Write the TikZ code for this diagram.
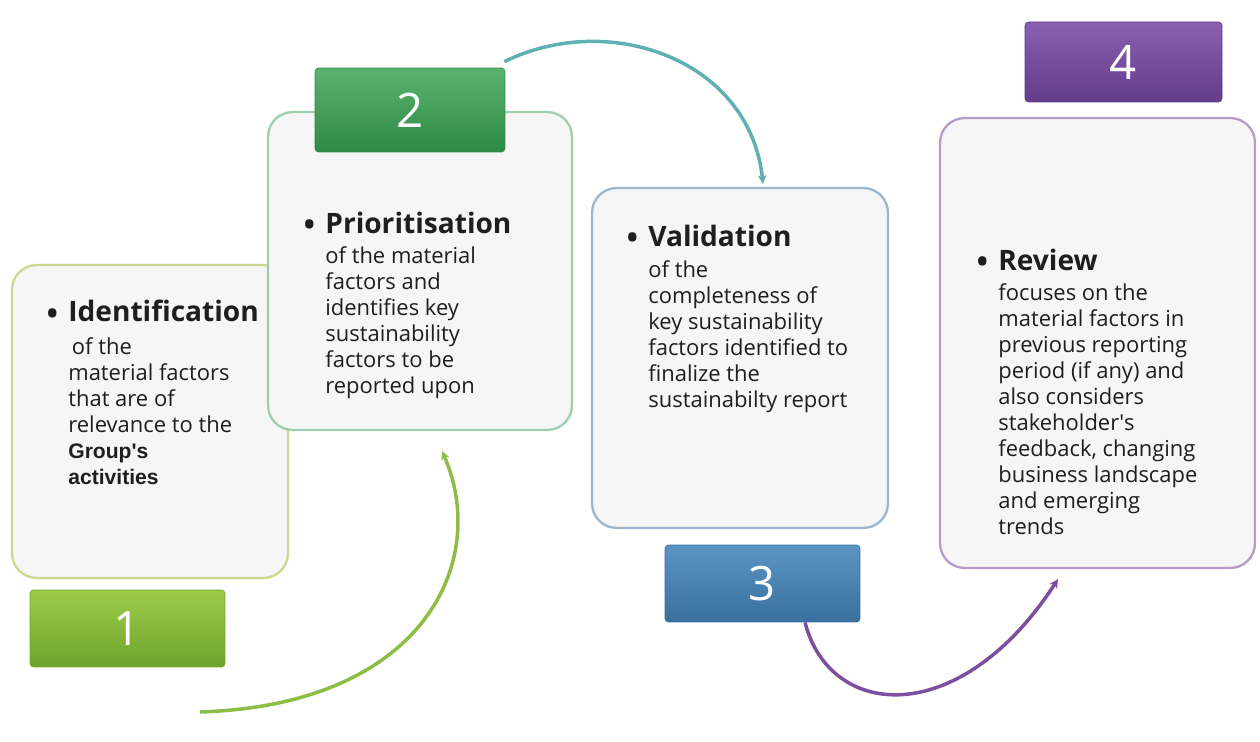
\documentclass[tikz,border=0pt]{standalone}
\usepackage{fontspec}
\setmainfont{Open Sans}
\newfontfamily\arialfont{Liberation Sans}
\usetikzlibrary{arrows.meta}

\definecolor{boxgray}{HTML}{F6F6F6}
\definecolor{edgeone}{HTML}{C9D98F}
\definecolor{edgetwo}{HTML}{9FCFB0}
\definecolor{edgethree}{HTML}{9BB8D0}
\definecolor{edgefour}{HTML}{B49CC8}
\definecolor{arcgreen}{HTML}{8CBD45}
\definecolor{arcteal}{HTML}{5FB0B0}
\definecolor{arcpurple}{HTML}{7D4F9E}
\definecolor{tabonetop}{HTML}{9CCC4A}
\definecolor{tabonebot}{HTML}{6EA32C}
\definecolor{tabtwotop}{HTML}{5AB46E}
\definecolor{tabtwobot}{HTML}{2F8A47}
\definecolor{tabthreetop}{HTML}{5A96C4}
\definecolor{tabthreebot}{HTML}{386F9E}
\definecolor{tabfourtop}{HTML}{8A5FB0}
\definecolor{tabfourbot}{HTML}{633C8A}
\definecolor{inkgray}{HTML}{1E1E1E}

\tikzset{
  stage/.style={draw=#1, line width=1.3pt, rounded corners=14pt, fill=boxgray},
  tabbox/.style 2 args={rounded corners=2pt, top color=#1, bottom color=#2,
    draw=#2, line width=0.4pt, text=white, font=\fontsize{27}{27}\selectfont},
  stagetext/.style={anchor=north west, inner sep=0pt, align=left, text=inkgray,
    font=\fontsize{12.5}{14.8}\selectfont},
  flow/.style={draw=#1, line width=2pt, -{Stealth[length=5pt,width=5pt]}}
}
\newcommand{\stagehead}[1]{{\fontsize{16}{18}\selectfont\llap{\raisebox{-3pt}{\fontsize{22}{18}\selectfont\textbullet}\hspace{5pt}}\bfseries #1}}

\begin{document}
\begin{tikzpicture}[x=0.02cm, y=-0.02cm]
\useasboundingbox (0,0) rectangle (1260,742);
% stage boxes
\node [stage=edgeone, minimum width=5.52cm, minimum height=6.26cm] (box1) at (150,421.5) {};
\node [stage=edgetwo, minimum width=6.08cm, minimum height=6.36cm] (box2) at (420,271) {};
\node [stage=edgethree, minimum width=5.92cm, minimum height=6.8cm] (box3) at (740,358) {};
\node [stage=edgefour, minimum width=6.3cm, minimum height=9cm] (box4) at (1097.5,343) {};
% number tabs
\node [tabbox={tabonetop}{tabonebot}, minimum width=3.9cm, minimum height=1.54cm] (tab1) at (127.5,628.5) {1};
\node [tabbox={tabtwotop}{tabtwobot}, minimum width=3.8cm, minimum height=1.68cm] (tab2) at (410,110) {2};
\node [tabbox={tabthreetop}{tabthreebot}, minimum width=3.9cm, minimum height=1.54cm] (tab3) at (762.5,583.5) {3};
\node [tabbox={tabfourtop}{tabfourbot}, minimum width=3.94cm, minimum height=1.6cm] (tab4) at (1123.5,62) {4};
% texts
\node [stagetext] (txt1) at (68,300) {\stagehead{Identification}\\[4pt]
  \hspace{2pt}of the\\ material factors\\ that are of\\ relevance to the\\
  {\arialfont\bfseries\fontsize{12}{14.8}\selectfont Group\textquotesingle s}\\
  {\arialfont\bfseries\fontsize{12}{14.8}\selectfont activities}};
\node [stagetext] (txt2) at (325,212) {\stagehead{Prioritisation}\\[2pt]
  of the material\\ factors and\\ identifies key\\ sustainability\\
  factors to be\\ reported upon};
\node [stagetext] (txt3) at (648,225) {\stagehead{Validation}\\[3pt]
  of the\\ completeness of\\ key sustainability\\ factors identified to\\
  finalize the\\ sustainabilty report};
\node [stagetext] (txt4) at (998,249) {\stagehead{Review}\\[2pt]
  focuses on the\\ material factors in\\ previous reporting\\
  period (if any) and\\ also considers\\ stakeholder\textquotesingle s\\
  feedback, changing\\ business landscape\\ and emerging\\ trends};
% curved connectors
\coordinate (g0) at (200,712);
\draw [flow=arcgreen] (g0) .. controls (425,705) and (490,560) .. ([xshift=0.44cm,yshift=-0.4cm]box2.south);
\draw [flow=arcteal] ([xshift=-0.02cm,yshift=0.12cm]tab2.north east) .. controls (610,10) and (750,60) .. ([xshift=0.46cm,yshift=0.06cm]box3.north);
\draw [flow=arcpurple] ([xshift=0.85cm]tab3.south) .. controls (830,720) and (960,730) .. ([xshift=-0.79cm,yshift=-0.2cm]box4.south);
\end{tikzpicture}
\end{document}
